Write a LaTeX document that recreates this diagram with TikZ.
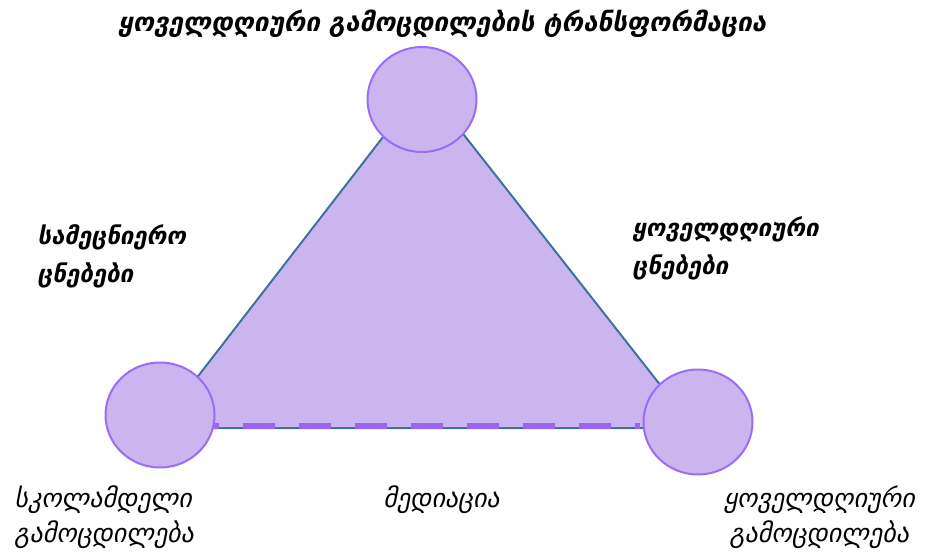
\documentclass[tikz,border=0pt]{standalone}
\usepackage{fontspec}
\newfontfamily\geoboldB{DejaVu Sans Bold}[FakeSlant=0.2]
\newfontfamily\geolight{DejaVu Sans}[FakeSlant=0.2]
\definecolor{trifill}{HTML}{CBB5EE}
\definecolor{triedge}{HTML}{41719C}
\definecolor{circedge}{HTML}{9B6CF5}
\definecolor{dashcol}{HTML}{9966F2}
\usetikzlibrary{shapes.geometric}
\tikzset{
  vcircle/.style={ellipse, draw=circedge, fill=trifill, line width=2pt, minimum width=109pt, minimum height=105pt, inner sep=0pt},
  toplabel/.style={font=\geoboldB\fontsize{26}{30}\selectfont, inner sep=0pt},
  boldlabel/.style={font=\geoboldB\fontsize{24}{28}\selectfont, inner sep=0pt},
  lightlabel/.style={font=\geolight\fontsize{26}{30}\selectfont, inner sep=0pt},
}
\begin{document}
\begin{tikzpicture}[x=1pt,y=-1pt]
\useasboundingbox (0,0) rectangle (931,553);
\coordinate (apex) at (424,84);
\coordinate (bl) at (158,428);
\coordinate (br) at (694,428);
\filldraw[fill=trifill, draw=triedge, line width=2pt, line join=miter] (apex) -- (bl) -- (br) -- cycle;
\coordinate (ds) at (212,426);
\coordinate (de) at (640,426);
\draw[dashcol, line width=6pt, dash pattern=on 7pt off 24pt on 32pt off 24pt on 32pt off 24pt on 32pt off 24pt on 32pt off 24pt on 32pt off 24pt on 32pt off 24pt on 32pt off 24pt] (ds) -- (de);
\node[vcircle] (ctop) at (422,99.5) {};
\node[vcircle] (cleft) at (160,415) {};
\node[vcircle] (cright) at (698,422) {};
\node[toplabel, anchor=base] (ttop) at (442,32) {ყოველდღიური გამოცდილების ტრანსფორმაცია};
\node[boldlabel, anchor=base west, xscale=1.0] (tl1) at (37,245) {სამეცნიერო};
\node[boldlabel, anchor=base west] (tl2) at (37,283) {ცნებები};
\node[boldlabel, anchor=base west] (tr1) at (632,237) {ყოველდღიური};
\node[boldlabel, anchor=base west] (tr2) at (632,275) {ცნებები};
\node[lightlabel, anchor=base west] (tb1) at (14,507) {სკოლამდელი};
\node[lightlabel, anchor=base west] (tb2) at (14,542) {გამოცდილება};
\node[lightlabel, anchor=base west] (tm) at (383,507) {მედიაცია};
\node[lightlabel, anchor=base] (tbr1) at (819,507) {ყოველდღიური};
\node[lightlabel, anchor=base] (tbr2) at (819,542) {გამოცდილება};
\end{tikzpicture}
\end{document}
